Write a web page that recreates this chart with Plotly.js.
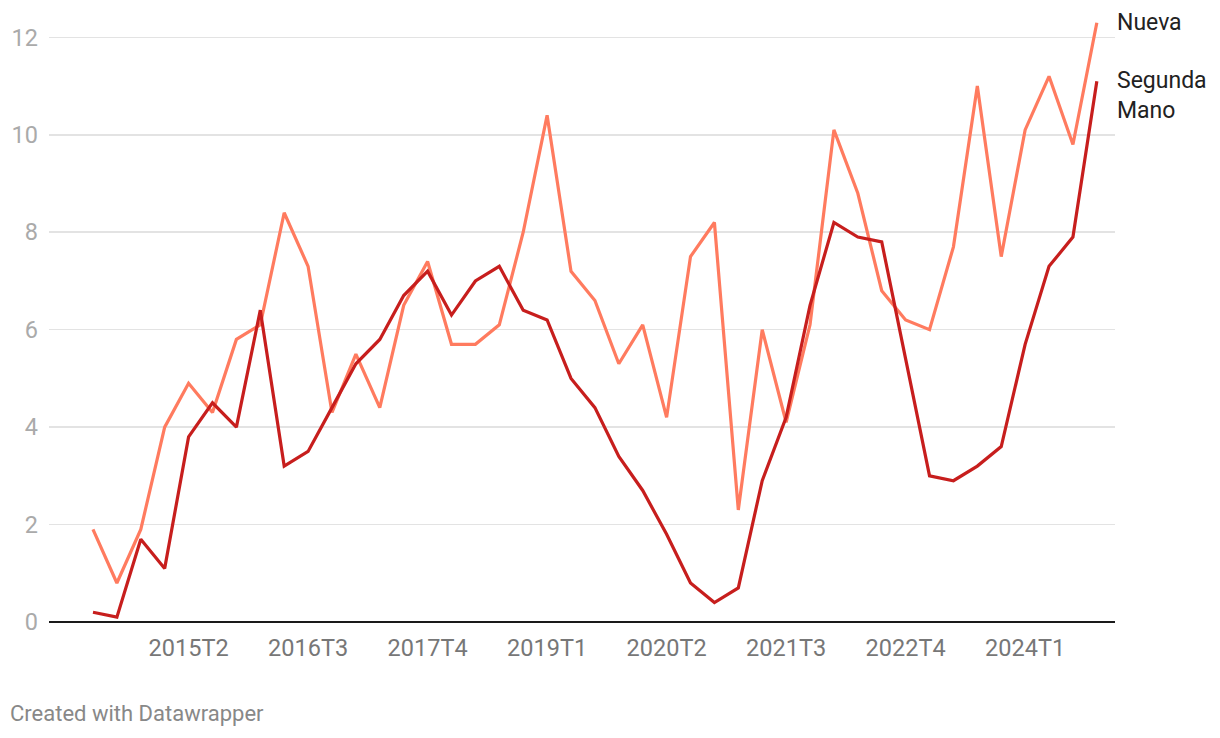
<!DOCTYPE html>
<html>
<head>
<meta charset="utf-8">
<script src="https://cdn.plot.ly/plotly-3.0.1.min.js"></script>
<style>
html,body{margin:0;padding:0;background:#fff;}
#chart{width:1220px;height:738px;}
</style>
</head>
<body>
<div id="chart"></div>
<script>
// Quarters 2014T2 .. 2024T4
const quarters = [
 "2014T2","2014T3","2014T4",
 "2015T1","2015T2","2015T3","2015T4",
 "2016T1","2016T2","2016T3","2016T4",
 "2017T1","2017T2","2017T3","2017T4",
 "2018T1","2018T2","2018T3","2018T4",
 "2019T1","2019T2","2019T3","2019T4",
 "2020T1","2020T2","2020T3","2020T4",
 "2021T1","2021T2","2021T3","2021T4",
 "2022T1","2022T2","2022T3","2022T4",
 "2023T1","2023T2","2023T3","2023T4",
 "2024T1","2024T2","2024T3","2024T4"
];
const nueva = [
 1.9,0.8,1.9,
 4.0,4.9,4.3,5.8,
 6.1,8.4,7.3,4.3,
 5.5,4.4,6.5,7.4,
 5.7,5.7,6.1,8.0,
 10.4,7.2,6.6,5.3,
 6.1,4.2,7.5,8.2,
 2.3,6.0,4.1,6.1,
 10.1,8.8,6.8,6.2,
 6.0,7.7,11.0,7.5,
 10.1,11.2,9.8,12.3
];
const segundaMano = [
 0.2,0.1,1.7,
 1.1,3.8,4.5,4.0,
 6.4,3.2,3.5,4.4,
 5.3,5.8,6.7,7.2,
 6.3,7.0,7.3,6.4,
 6.2,5.0,4.4,3.4,
 2.7,1.8,0.8,0.4,
 0.7,2.9,4.2,6.5,
 8.2,7.9,7.8,5.4,
 3.0,2.9,3.2,3.6,
 5.7,7.3,7.9,11.1
];
const xTicks = ["2015T2","2016T3","2017T4","2019T1","2020T2","2021T3","2022T4","2024T1"];
const yTicks = [0,2,4,6,8,10,12];
const seriesNames = ["Nueva","Segunda<br>Mano"];

const colNueva = "#ff7b5f";
const colSegunda = "#c71e1d";

const traces = [
  {x: quarters, y: nueva, type:"scatter", mode:"lines", name:"Nueva",
   line:{color:colNueva, width:3.2}, hoverinfo:"x+y"},
  {x: quarters, y: segundaMano, type:"scatter", mode:"lines", name:"Segunda Mano",
   line:{color:colSegunda, width:3.2}, hoverinfo:"x+y"}
];

const last = quarters.length - 1;
const layout = {
  width:1220, height:738,
  margin:{l:49, r:105, t:13, b:116},
  paper_bgcolor:"#fff", plot_bgcolor:"#fff",
  showlegend:false,
  font:{family:"Roboto, 'Noto Sans', sans-serif", size:20, color:"#333"},
  xaxis:{
    type:"category",
    range:[-1.84, 42.76],
    tickmode:"array", tickvals:xTicks, ticktext:xTicks,
    showgrid:false, zeroline:false, showline:false, ticks:"",
    tickfont:{size:23.5, color:"#777"},
    ticklabelstandoff:9
  },
  yaxis:{
    range:[0, 12.5],
    tickmode:"array", tickvals:yTicks,
    showgrid:true, gridcolor:"#e3e3e3", gridwidth:1.5,
    zeroline:true, zerolinecolor:"#1a1a1a", zerolinewidth:2,
    showline:false, ticks:"",
    tickfont:{size:23.5, color:"#aaa"},
    ticklabelstandoff:10
  },
  annotations:[
    {x:quarters[last], y:nueva[last], xref:"x", yref:"y", text:seriesNames[0],
     showarrow:false, xanchor:"left", yanchor:"middle", xshift:18, yshift:0,
     font:{size:23, color:"#222"}, align:"left"},
    {x:quarters[last], y:segundaMano[last], xref:"x", yref:"y", text:seriesNames[1],
     showarrow:false, xanchor:"left", yanchor:"top", xshift:18, yshift:16,
     font:{size:23, color:"#222"}, align:"left"},
    {x:-41/1066, y:-(714-622)/609.4, xref:"paper", yref:"paper", text:"Created with Datawrapper",
     showarrow:false, xanchor:"left", yanchor:"middle",
     font:{size:22, color:"#888"}}
  ]
};

Plotly.newPlot("chart", traces, layout, {displayModeBar:false, staticPlot:true});
</script>
</body>
</html>
